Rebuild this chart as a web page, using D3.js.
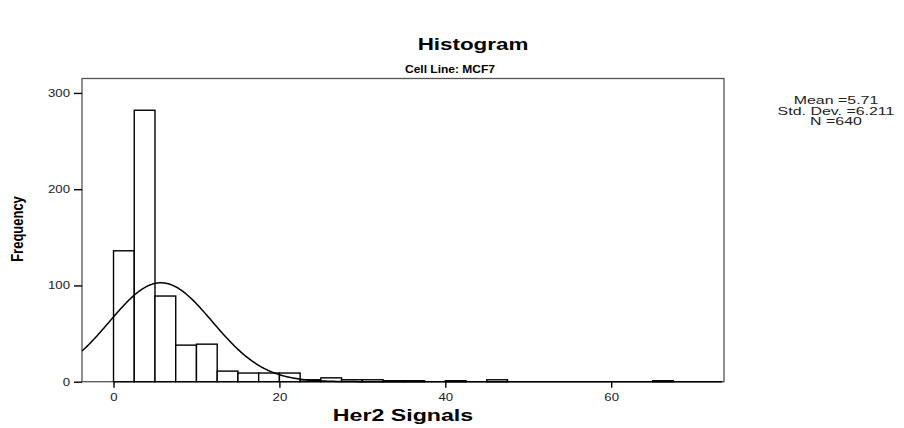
<!DOCTYPE html>
<html>
<head>
<meta charset="utf-8">
<script src="https://cdn.jsdelivr.net/npm/d3@7"></script>
<style>
  body { margin: 0; background: #fff; }
  svg { display: block; font-family: "Liberation Sans", Arial, sans-serif; }
</style>
</head>
<body>
<svg id="chart" width="904" height="428"></svg>
<script>
// histogram bins (start of bin, width 2.5) and their counts
const binStarts = [0, 2.5, 5, 7.5, 10, 12.5, 15, 17.5, 20, 22.5, 25, 27.5, 30, 32.5, 35, 40, 45, 65];
const counts    = [136, 282, 89, 38, 39, 11, 9, 9, 9, 2, 4, 2, 2, 1, 1, 1, 2, 1];
const binWidth = 2.5;

const xTicks = [0, 20, 40, 60];
const yTicks = [0, 100, 200, 300];

const mean = 5.71, stdDev = 6.211, n = 640;
const statLines = ['Mean =5.71', 'Std. Dev. =6.211', 'N =640'];

const svg = d3.select('#chart');
const sx = 1.2; // the picture is stretched sideways

const frame = { left: 82, right: 724, top: 78.5, bottom: 381.7 };

const x = d3.scaleLinear().domain([-3.8, 73.6]).range([frame.left, frame.right]);
const y = d3.scaleLinear().domain([0, 315]).range([frame.bottom, frame.top]);

function stretchedText(g, tx, ty, str, k) {
  return g.append('text')
    .attr('transform', 'translate(' + tx + ',' + ty + ') scale(' + (k || sx) + ',1)')
    .text(str);
}

// titles
stretchedText(svg, 473, 50, 'Histogram', 1.4)
  .attr('text-anchor', 'middle').attr('font-size', 16).attr('font-weight', 'bold');
stretchedText(svg, 450, 73, 'Cell Line: MCF7')
  .attr('text-anchor', 'middle').attr('font-size', 10).attr('font-weight', 'bold');

// frame
svg.append('rect')
  .attr('x', frame.left).attr('y', frame.top)
  .attr('width', frame.right - frame.left).attr('height', frame.bottom - frame.top)
  .attr('fill', 'none').attr('stroke', '#555').attr('stroke-width', 1.3);

// bars
svg.append('g').selectAll('rect')
  .data(binStarts.map((s, i) => ({ s, c: counts[i] })))
  .enter().append('rect')
  .attr('x', d => x(d.s))
  .attr('y', d => y(d.c))
  .attr('width', d => x(d.s + binWidth) - x(d.s))
  .attr('height', d => y(0) - y(d.c))
  .attr('fill', '#fff')
  .attr('stroke', '#000')
  .attr('stroke-width', 1.4);

// fitted normal curve
const xs = d3.range(x.domain()[0], x.domain()[1], 0.2);
const norm = v => n * binWidth / (stdDev * Math.sqrt(2 * Math.PI)) *
  Math.exp(-0.5 * Math.pow((v - mean) / stdDev, 2));
svg.append('path')
  .datum(xs)
  .attr('fill', 'none')
  .attr('stroke', '#000')
  .attr('stroke-width', 1.5)
  .attr('d', d3.line().x(d => x(d)).y(d => y(norm(d))));

// axes
const xAxis = svg.append('g')
  .attr('transform', 'translate(0,' + frame.bottom + ')')
  .call(d3.axisBottom(x).tickValues(xTicks).tickSize(6).tickSizeOuter(0).tickFormat(d3.format('d')));
const yAxis = svg.append('g')
  .attr('transform', 'translate(' + frame.left + ',0)')
  .call(d3.axisLeft(y).tickValues(yTicks).tickSize(8).tickSizeOuter(0).tickFormat(d3.format('d')));

[xAxis, yAxis].forEach(a => {
  a.select('.domain').remove();
  a.selectAll('line').attr('stroke', '#000').attr('stroke-width', 1.4);
  a.selectAll('text').attr('font-size', 11).attr('fill', '#222')
    .attr('font-family', '"Liberation Sans", Arial, sans-serif');
});
xAxis.selectAll('.tick text').attr('transform', 'scale(' + sx + ',1)').attr('dy', '0.9em');
yAxis.selectAll('.tick text').attr('transform', 'scale(' + sx + ',1)').attr('x', -12 / sx);

// axis titles
stretchedText(svg, 403, 421, 'Her2 Signals', 1.45)
  .attr('text-anchor', 'middle').attr('font-size', 16).attr('font-weight', 'bold');
svg.append('text')
  .attr('transform', 'translate(23,229) rotate(-90) scale(1,' + sx + ')')
  .attr('text-anchor', 'middle').attr('font-size', 13).attr('font-weight', 'bold')
  .text('Frequency');

// summary statistics
const stats = svg.append('g').attr('font-size', 11).attr('fill', '#222');
statLines.forEach((s, i) => {
  stretchedText(stats, 836, 104 + i * 10.5, s, 1.45).attr('text-anchor', 'middle');
});
</script>
</body>
</html>
